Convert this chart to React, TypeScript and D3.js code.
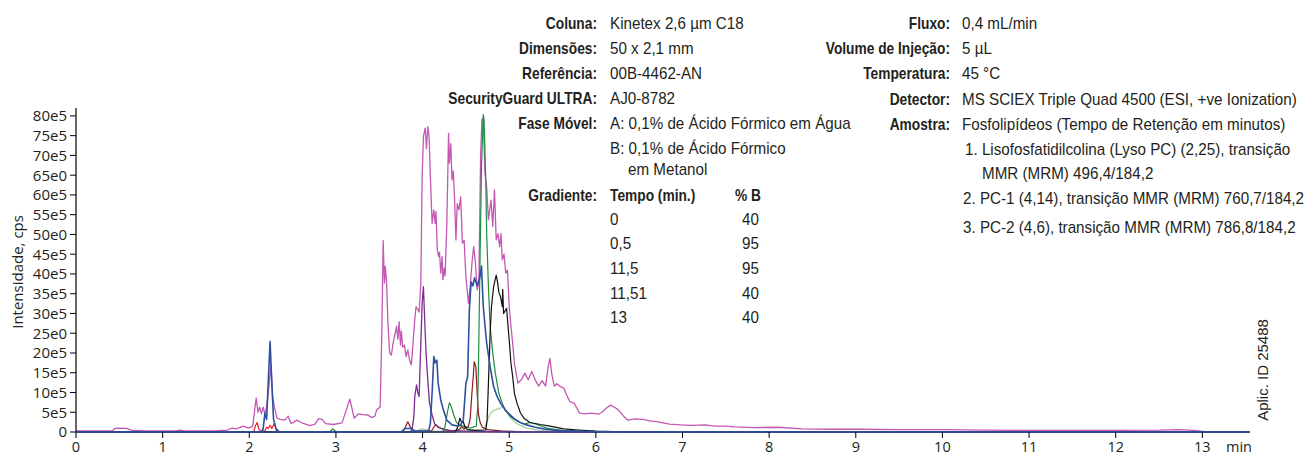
import React from "react";
import * as d3 from "d3";

// ---------- data ----------
const xTickValues = [0, 1, 2, 3, 4, 5, 6, 7, 8, 9, 10, 11, 12, 13];
const yTickValues = [0, 5, 10, 15, 20, 25, 30, 35, 40, 45, 50, 55, 60, 65, 70, 75, 80];
const yTickLabels = ["0", "5e5", "10e5", "15e5", "20e5", "25e0", "30e5", "35e5", "40e5", "45e5", "50e0", "55e5", "60e5", "65e0", "70e5", "75e5", "80e5"];

// [time (min), intensity (x1e5 cps)]
const magentaTrace: [number, number][] = [
  [0, 0.3], [0.42, 0.3], [0.45, 0.9], [0.5, 1.0], [0.58, 0.9], [0.65, 0.4], [0.8, 0.3], [1.15, 0.3], [1.2, 0.5], [1.25, 0.3],
  [1.6, 0.3], [1.75, 0.5], [1.8, 1.0], [1.85, 0.8], [1.93, 1.5], [1.99, 1.0], [2.04, 1.5], [2.07, 7.0], [2.08, 8.6], [2.1, 5.0],
  [2.12, 6.3], [2.14, 4.6], [2.16, 6.3], [2.18, 4.5], [2.2, 6.3], [2.22, 10], [2.25, 17], [2.27, 9], [2.29, 6.3], [2.32, 3.5],
  [2.36, 3.2], [2.41, 3.0], [2.45, 4.0], [2.48, 2.2], [2.51, 2.4], [2.55, 3.0], [2.6, 2.4], [2.7, 1.6], [2.76, 2.0], [2.8, 3.4],
  [2.84, 3.2], [2.88, 2.1], [2.97, 1.9], [3.07, 2.3], [3.12, 5.6], [3.16, 8.3], [3.18, 6.5], [3.21, 3.5], [3.26, 4.6], [3.31, 4.4],
  [3.37, 4.3], [3.41, 3.7], [3.45, 4.0], [3.47, 5.6], [3.51, 6.3], [3.53, 25], [3.545, 48.4], [3.56, 37.7], [3.57, 41.9], [3.585, 37.7],
  [3.6, 27.6], [3.62, 20], [3.64, 19.5], [3.66, 22.5], [3.7, 26.7], [3.715, 23.5], [3.73, 27.9], [3.745, 22], [3.755, 25.5], [3.77, 21.5],
  [3.79, 22], [3.81, 19.1], [3.83, 20.8], [3.85, 18.2], [3.87, 17], [3.89, 22.5], [3.91, 28.4], [3.925, 31.7], [3.945, 31], [3.96, 30.3],
  [3.98, 37.7], [3.995, 64.6], [4.01, 74.8], [4.03, 76.9], [4.045, 71.7], [4.06, 77.3], [4.075, 74.8], [4.09, 64.6], [4.11, 52.8], [4.13, 56.2],
  [4.145, 52.8], [4.155, 55.8], [4.17, 46.1], [4.185, 44.4], [4.195, 45.5], [4.21, 40.2], [4.225, 44.4], [4.235, 38.6], [4.25, 41.5], [4.26, 39.5],
  [4.28, 52.8], [4.3, 75.6], [4.31, 68], [4.325, 73], [4.34, 63.8], [4.355, 66], [4.37, 58.7], [4.385, 48.6], [4.4, 57.8], [4.42, 56.2],
  [4.44, 59.5], [4.46, 47.8], [4.48, 48.5], [4.5, 39.3], [4.53, 32.6], [4.55, 36.9], [4.57, 42.7], [4.59, 46.9], [4.61, 42.7], [4.63, 36],
  [4.65, 38], [4.67, 70], [4.685, 79], [4.7, 79.5], [4.72, 65.5], [4.74, 62], [4.76, 53.7], [4.775, 56.2], [4.79, 58.7], [4.81, 52],
  [4.83, 61.3], [4.85, 48.6], [4.87, 50.2], [4.89, 46.9], [4.905, 50.2], [4.92, 43.6], [4.94, 45], [4.96, 40.2], [4.98, 41], [5.0, 31.7],
  [5.02, 26.7], [5.04, 22.5], [5.06, 17.4], [5.08, 14.9], [5.1, 12.4], [5.14, 13.2], [5.18, 14.9], [5.22, 13.2], [5.26, 15.3], [5.3, 13.2],
  [5.34, 11.6], [5.38, 13], [5.42, 11.6], [5.45, 16.5], [5.47, 18.6], [5.49, 14.9], [5.52, 11.6], [5.55, 12.2], [5.59, 11.5], [5.63, 11.1],
  [5.66, 9.5], [5.7, 7.7], [5.75, 7.3], [5.81, 4.8], [5.88, 4.6], [5.95, 4.8], [6.03, 4.5], [6.08, 5.2], [6.12, 6.0], [6.17, 6.8],
  [6.22, 6.2], [6.26, 5.6], [6.32, 4.0], [6.37, 3.0], [6.45, 3.3], [6.54, 3.2], [6.62, 2.8], [6.7, 2.6], [6.85, 2.0], [6.98, 1.8],
  [7.1, 1.7], [7.26, 1.8], [7.38, 1.5], [7.49, 1.5], [7.6, 1.3], [7.82, 1.1], [8.1, 1.2], [8.38, 0.8], [8.7, 0.7], [9.05, 0.7],
  [9.5, 0.6], [10.05, 0.6], [10.5, 0.45], [11.17, 0.4], [12.0, 0.4], [12.5, 0.45], [12.73, 0.6], [12.9, 0.4], [13.06, 0], [13.55, 0],
];

const lightGreenTrace: [number, number][] = [
  [0, 0], [3.9, 0], [3.95, 0.5], [4.0, 0.8], [4.05, 0.6], [4.1, 0.2], [4.43, 0.2], [4.46, 1.0], [4.49, 0.4], [4.7, 0.5],
  [4.74, 2.5], [4.78, 4.6], [4.82, 5.5], [4.88, 5.9], [4.93, 6.3], [4.97, 5.1], [5.02, 3.4], [5.08, 2.2], [5.2, 1.0], [5.35, 0.4],
  [5.6, 0.1], [6, 0], [13.55, 0],
];

const redTrace: [number, number][] = [
  [0, 0], [2.05, 0], [2.07, 1.5], [2.09, 2.4], [2.11, 0.8], [2.13, 0.3], [2.18, 0.2], [2.2, 1.2], [2.22, 0.9], [2.24, 1.7],
  [2.26, 0.9], [2.29, 2.2], [2.31, 0.5], [2.34, 0], [13.55, 0],
];

const darkRedTrace: [number, number][] = [
  [0, 0], [3.77, 0], [3.8, 1.2], [3.83, 2.6], [3.86, 1.2], [3.9, 0.3], [4.1, 0.2], [4.13, 1.2], [4.15, 1.9], [4.18, 1.2],
  [4.25, 0.6], [4.35, 0.3], [4.42, 0.6], [4.45, 1.4], [4.48, 0.8], [4.51, 1.2], [4.53, 1.5], [4.55, 3.5], [4.57, 10], [4.585, 14],
  [4.596, 17.8], [4.615, 16.5], [4.63, 9.9], [4.645, 4.6], [4.665, 2.4], [4.69, 1.2], [4.75, 0.6], [4.9, 0.3], [5.2, 0], [13.55, 0],
];

const purpleTrace: [number, number][] = [
  [0, 0], [3.86, 0], [3.88, 0.8], [3.9, 4], [3.91, 9], [3.93, 11.9], [3.945, 10], [3.96, 9], [3.98, 22.5], [3.995, 32.6],
  [4.01, 36.8], [4.02, 30.9], [4.04, 20], [4.06, 13.2], [4.08, 7.3], [4.11, 4.3], [4.14, 2], [4.2, 1], [4.3, 0.4], [4.5, 0.2],
  [5, 0], [13.55, 0],
];

const greenTrace: [number, number][] = [
  [0, 0], [2.93, 0], [2.96, 0.8], [2.99, 0.3], [3.02, 0], [4.24, 0], [4.26, 1.5], [4.29, 5.4], [4.31, 7.4], [4.33, 6.5],
  [4.36, 4.3], [4.39, 2.5], [4.42, 1.8], [4.47, 1.5], [4.55, 1.0], [4.62, 1.5], [4.635, 6], [4.645, 16.5], [4.665, 46], [4.68, 67],
  [4.7, 80.3], [4.71, 79], [4.73, 63], [4.74, 50.3], [4.76, 36.8], [4.78, 26.7], [4.81, 19.9], [4.84, 14.9], [4.88, 9.8], [4.92, 7.3],
  [4.95, 5.6], [5.01, 4.0], [5.09, 2.8], [5.17, 2.0], [5.24, 2.4], [5.32, 1.9], [5.45, 0.9], [5.6, 0.4], [6.0, 0.1], [6.3, 0], [13.55, 0],
];

const blackTrace: [number, number][] = [
  [0, 0], [4.38, 0], [4.41, 1.5], [4.43, 3.5], [4.45, 2.4], [4.47, 2.6], [4.49, 1.2], [4.52, 0.6], [4.6, 0.4], [4.73, 0.5],
  [4.745, 3], [4.76, 12.3], [4.78, 25], [4.795, 31.7], [4.82, 36.8], [4.85, 39.7], [4.865, 38], [4.88, 35.4], [4.9, 34.2], [4.92, 31.7],
  [4.925, 36.1], [4.935, 30], [4.97, 31.3], [4.99, 25.8], [5.0, 23.3], [5.02, 17.4], [5.04, 14], [5.06, 9.8], [5.09, 7.3], [5.13, 4.8],
  [5.17, 3.5], [5.24, 2.4], [5.36, 1.9], [5.47, 1.5], [5.63, 0.8], [5.8, 0.5], [6.0, 0.2], [6.4, 0], [13.55, 0],
];

const blueTrace: [number, number][] = [
  [0, 0], [2.14, 0], [2.16, 0.8], [2.18, 4.7], [2.2, 3.2], [2.22, 13.2], [2.24, 22.9], [2.26, 12.3], [2.28, 3.2], [2.31, 0.8],
  [2.35, 0], [3.75, 0], [3.8, 0.9], [3.86, 0.9], [3.92, 0.2], [4.07, 0.3], [4.09, 2.2], [4.11, 9.8], [4.13, 19.1], [4.145, 17.5],
  [4.165, 18.2], [4.18, 12.3], [4.21, 8.1], [4.24, 5.6], [4.28, 3.0], [4.34, 1.8], [4.4, 1.5], [4.44, 1.8], [4.47, 3.0], [4.5, 12.3],
  [4.52, 14], [4.54, 30.9], [4.56, 38], [4.58, 37], [4.6, 39], [4.63, 37], [4.66, 39], [4.68, 42], [4.7, 32], [4.72, 27],
  [4.74, 22.5], [4.78, 16.5], [4.82, 11.5], [4.86, 9], [4.9, 7.3], [4.97, 5.2], [5.05, 3.5], [5.12, 2.5], [5.2, 1.8], [5.3, 1.2],
  [5.4, 0.8], [5.55, 0.4], [5.8, 0.15], [6.2, 0], [13.55, 0],
];

const seriesList = [
  { name: "magenta", data: magentaTrace, color: "#c458b3", width: 1.3 },
  { name: "lightgreen", data: lightGreenTrace, color: "#a9cfa5", width: 1.3 },
  { name: "red", data: redTrace, color: "#e8202a", width: 1.2 },
  { name: "darkred", data: darkRedTrace, color: "#8e1b1b", width: 1.2 },
  { name: "purple", data: purpleTrace, color: "#7b2d8e", width: 1.3 },
  { name: "green", data: greenTrace, color: "#1e8c45", width: 1.2 },
  { name: "black", data: blackTrace, color: "#111111", width: 1.2 },
  { name: "blue", data: blueTrace, color: "#2f4fa0", width: 1.6 },
];

const leftInfo = [
  ["Coluna:", "Kinetex 2,6 µm C18"],
  ["Dimensões:", "50 x 2,1 mm"],
  ["Referência:", "00B-4462-AN"],
  ["SecurityGuard ULTRA:", "AJ0-8782"],
  ["Fase Móvel:", "A: 0,1% de Ácido Fórmico em Água"],
];
const rightInfo = [
  ["Fluxo:", "0,4 mL/min"],
  ["Volume de Injeção:", "5 µL"],
  ["Temperatura:", "45 °C"],
  ["Detector:", "MS SCIEX Triple Quad 4500 (ESI, +ve Ionization)"],
  ["Amostra:", "Fosfolipídeos (Tempo de Retenção em minutos)"],
];
const gradientTimes = ["0", "0,5", "11,5", "11,51", "13"];
const gradientB = ["40", "95", "95", "40", "40"];

// ---------- layout ----------
const W = 1314;
const H = 455;
const x = d3.scaleLinear().domain([0, 13.55]).range([76, 1250]);
const y = d3.scaleLinear().domain([0, 82]).range([432, 108]);

const INK = "#231f20";
const AXIS_FONT = "'Open Sans', sans-serif";
const INFO_FONT = "'Liberation Sans', Arial, sans-serif";

function T(props: { x: number; y: number; bold?: boolean; anchor?: string; children: React.ReactNode }) {
  const sx = props.bold ? 0.86 : 0.95;
  return (
    <text
      transform={`translate(${props.x},${props.y}) scale(${sx},1)`}
      textAnchor={props.anchor || "start"}
      fontFamily={INFO_FONT}
      fontWeight={props.bold ? 700 : 400}
      fontSize={16}
      fill={INK}
    >
      {props.children}
    </text>
  );
}

export default function App() {
  const line = d3
    .line<[number, number]>()
    .x((d) => x(d[0]))
    .y((d) => y(d[1]));

  const leftRows = [29, 54, 79, 104, 129];
  const rightRows = [29, 54, 79, 104.5, 130];
  const gradRows = [225, 249, 274, 299, 323];

  return (
    <svg width={W} height={H} style={{ position: "absolute", left: 0, top: 0, background: "#fff" }}>
      <rect x={0} y={0} width={W} height={H} fill="#fff" />

      {/* traces */}
      <g fill="none" strokeLinejoin="round">
        {seriesList.map((s) => (
          <path key={s.name} d={line(s.data) || ""} stroke={s.color} strokeWidth={s.width} />
        ))}
      </g>

      {/* y axis */}
      <g>
        <line x1={x(0)} x2={x(0)} y1={y(0)} y2={y(82)} stroke="#000" strokeWidth={1.2} />
        {yTickValues.map((v, i) => (
          <g key={v} transform={`translate(0,${y(v)})`}>
            <line x1={x(0) - 6} x2={x(0)} stroke="#000" strokeWidth={1} />
            <text x={x(0) - 9} dy="0.36em" textAnchor="end" fontFamily={AXIS_FONT} fontSize={15} fill={INK}>
              {yTickLabels[i]}
            </text>
          </g>
        ))}
        <text
          transform={`translate(23,${(y(0) + y(80)) / 2 - 2}) rotate(-90)`}
          textAnchor="middle"
          fontFamily={AXIS_FONT}
          fontSize={15}
          fill={INK}
        >
          Intensidade, cps
        </text>
      </g>

      {/* x axis */}
      <g>
        <line x1={x(0)} x2={x(13.55)} y1={y(0)} y2={y(0)} stroke="#2f4fa0" strokeWidth={1.2} />
        {xTickValues.map((v) => (
          <g key={v} transform={`translate(${x(v)},${y(0)})`}>
            <line y1={0} y2={6} stroke="#000" strokeWidth={1} />
            <text y={19.5} textAnchor="middle" fontFamily={AXIS_FONT} fontSize={14.5} fill={INK}>
              {v}
            </text>
          </g>
        ))}
        <text x={1226} y={451.5} fontFamily={AXIS_FONT} fontSize={14.5} fill={INK}>
          min
        </text>
      </g>

      {/* left info block */}
      {leftInfo.map((r, i) => (
        <g key={r[0]}>
          <T x={597} y={leftRows[i]} bold anchor="end">{r[0]}</T>
          <T x={610} y={leftRows[i]}>{r[1]}</T>
        </g>
      ))}
      <T x={610} y={153.5}>B: 0,1% de Ácido Fórmico</T>
      <T x={628} y={175}>em Metanol</T>
      <T x={597} y={200.5} bold anchor="end">Gradiente:</T>
      <T x={610} y={200.5} bold>Tempo (min.)</T>
      <T x={735} y={200.5} bold>% B</T>
      {gradientTimes.map((t, i) => (
        <g key={i}>
          <T x={610} y={gradRows[i]}>{t}</T>
          <T x={742} y={gradRows[i]}>{gradientB[i]}</T>
        </g>
      ))}

      {/* right info block */}
      {rightInfo.map((r, i) => (
        <g key={r[0]}>
          <T x={950} y={rightRows[i]} bold anchor="end">{r[0]}</T>
          <T x={962} y={rightRows[i]}>{r[1]}</T>
        </g>
      ))}
      <T x={965} y={155}>1. Lisofosfatidilcolina (Lyso PC) (2,25), transição</T>
      <T x={982} y={179}>MMR (MRM) 496,4/184,2</T>
      <T x={963} y={204}>2. PC-1 (4,14), transição MMR (MRM) 760,7/184,2</T>
      <T x={963} y={233}>3. PC-2 (4,6), transição MMR (MRM) 786,8/184,2</T>

      {/* application id */}
      <text
        transform={`translate(1268,${370}) rotate(-90)`}
        textAnchor="middle"
        fontFamily={INFO_FONT}
        fontSize={15}
        fill={INK}
      >
        Aplic. ID 25488
      </text>
    </svg>
  );
}
